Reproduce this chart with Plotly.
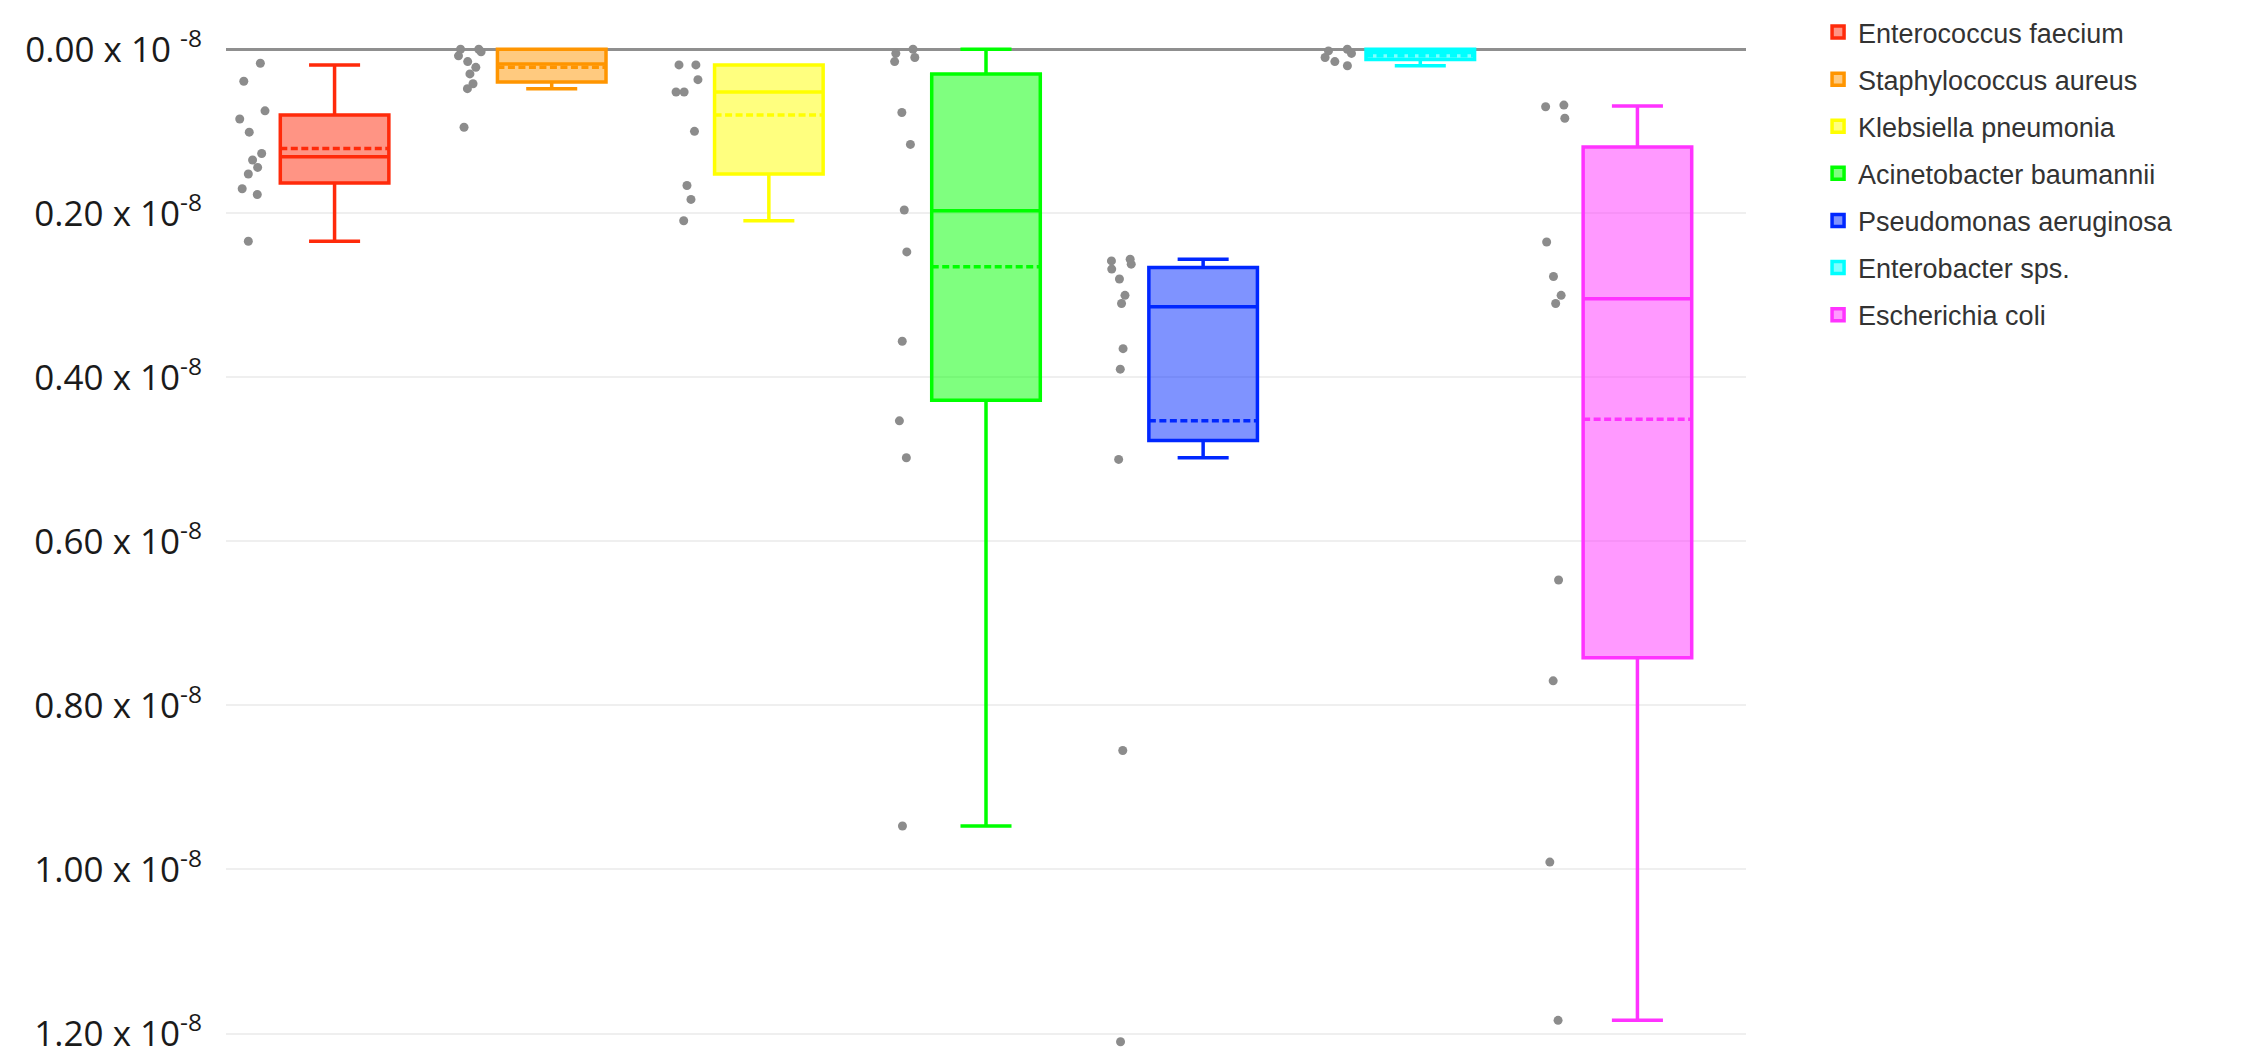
import plotly.graph_objects as go

# Species and colours
species = ['Enterococcus faecium', 'Staphylococcus aureus', 'Klebsiella pneumonia',
           'Acinetobacter baumannii', 'Pseudomonas aeruginosa', 'Enterobacter sps.',
           'Escherichia coli']
line_colors = ['#ff2a0a', '#ff9500', '#ffff00', '#00ff00', '#0027ff', '#00ffff', '#ff33ff']
fill_colors = ['rgba(255,42,10,0.5)', 'rgba(255,149,0,0.5)', 'rgba(255,255,0,0.5)',
               'rgba(0,255,0,0.5)', 'rgba(0,39,255,0.5)', 'rgba(0,255,255,0.5)',
               'rgba(255,51,255,0.5)']

# Box statistics (x 10^-8)
q1 = [0.080, 0.000, 0.019, 0.030, 0.266, 0.000, 0.119]
median = [0.131, 0.018, 0.052, 0.197, 0.314, 0.004, 0.304]
q3 = [0.163, 0.040, 0.152, 0.428, 0.477, 0.0125, 0.742]
lowerfence = [0.019, 0.000, 0.019, 0.000, 0.256, 0.000, 0.069]
upperfence = [0.234, 0.048, 0.209, 0.947, 0.498, 0.020, 1.184]
mean = [0.121, 0.022, 0.080, 0.265, 0.453, 0.008, 0.451]

# Sample points (x 10^-8)
pts_ef = [0.017, 0.039, 0.075, 0.085, 0.101, 0.127, 0.135, 0.144, 0.152, 0.170, 0.177, 0.234]
pts_sa = [0.0, 0.0, 0.003, 0.008, 0.015, 0.022, 0.030, 0.042, 0.048, 0.095]
pts_kp = [0.019, 0.019, 0.037, 0.052, 0.052, 0.100, 0.166, 0.183, 0.209]
pts_ab = [0.0, 0.005, 0.010, 0.015, 0.077, 0.116, 0.196, 0.247, 0.356, 0.453, 0.498, 0.947]
pts_pa = [0.256, 0.258, 0.262, 0.268, 0.280, 0.300, 0.310, 0.365, 0.390, 0.500, 0.855, 1.210]
pts_es = [0.0, 0.002, 0.005, 0.010, 0.015, 0.020]
pts_ec = [0.068, 0.070, 0.084, 0.235, 0.277, 0.300, 0.310, 0.647, 0.770, 0.991, 1.184]
points = [pts_ef, pts_sa, pts_kp, pts_ab, pts_pa, pts_es, pts_ec]

# Y axis ticks
tick_vals = [0.0, 0.2, 0.4, 0.6, 0.8, 1.0, 1.2]
tick_text = ['0.00 x 10 <sup>-8</sup>', '0.20 x 10<sup>-8</sup>', '0.40 x 10<sup>-8</sup>',
             '0.60 x 10<sup>-8</sup>', '0.80 x 10<sup>-8</sup>', '1.00 x 10<sup>-8</sup>',
             '1.20 x 10<sup>-8</sup>']

fig = go.Figure()

for i, name in enumerate(species):
    fig.add_trace(
        go.Box(
            x=[name],
            y=[points[i]],
            q1=[q1[i]],
            median=[median[i]],
            q3=[q3[i]],
            lowerfence=[lowerfence[i]],
            upperfence=[upperfence[i]],
            mean=[mean[i]],
            name=name,
            legendgroup=name,
            boxpoints='all',
            jitter=0.3,
            pointpos=-1.5,
            whiskerwidth=0.47,
            line=dict(color=line_colors[i], width=3.5),
            fillcolor=fill_colors[i],
            marker=dict(color='#8c8c8c', size=9),
        )
    )

fig.update_layout(
    width=2253,
    height=1063,
    margin=dict(l=218, r=515, t=29, b=17, autoexpand=False),
    paper_bgcolor='white',
    plot_bgcolor='white',
    boxmode='overlay',
    boxgap=0.5,
    boxgroupgap=0,
    showlegend=True,
    legend=dict(
        xref='container', yref='container',
        x=0.8034, y=1.0, xanchor='left', yanchor='top',
        font=dict(family='Liberation Sans', size=27, color='#333333'),
        tracegroupgap=9,
    ),
    xaxis=dict(
        range=[-0.5, 6.5],
        showticklabels=False, showgrid=False, zeroline=False, showline=False,
    ),
    yaxis=dict(
        range=[1.225, -0.015],
        automargin=False,
        tickvals=tick_vals,
        ticktext=tick_text,
        tickfont=dict(family='Open Sans', size=35, color='#1a1a1a'),
        showgrid=True, gridcolor='#efefef', gridwidth=1.5,
        zeroline=True, zerolinecolor='#8f8f8f', zerolinewidth=3,
        ticks='outside', ticklen=16, tickcolor='rgba(0,0,0,0)',
        showline=False,
    ),
)

fig.write_html('out.html')
